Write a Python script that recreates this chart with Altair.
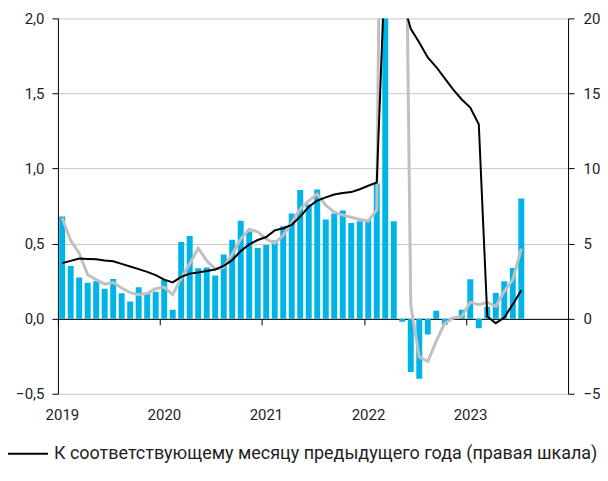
import altair as alt
import pandas as pd

# Monthly change, % (left axis), Jan 2019 .. Jul 2023
bars_mm = [0.68, 0.35, 0.275, 0.24, 0.25, 0.20, 0.265, 0.17, 0.115, 0.21, 0.17, 0.18,
           0.26, 0.06, 0.51, 0.55, 0.335, 0.34, 0.288, 0.427, 0.525, 0.652, 0.58, 0.47,
           0.49, 0.52, 0.615, 0.70, 0.857, 0.76, 0.86, 0.66, 0.70, 0.72, 0.637, 0.648,
           0.658, 0.90, 2.6, 0.648, -0.02, -0.355, -0.40, -0.105, 0.053, -0.04, 0.01, 0.06,
           0.262, -0.064, 0.08, 0.171, 0.249, 0.337, 0.80]

# Year-on-year, % (right axis)
yoy = [3.7, 3.85, 4.0, 3.98, 3.95, 3.87, 3.82, 3.65, 3.47, 3.3, 3.12, 2.9, 2.6, 2.42,
       2.78, 3.0, 3.07, 3.18, 3.28, 3.52, 3.9,
       4.5, 4.95, 5.24, 5.44, 5.88, 6.02, 6.25, 6.8, 7.45, 7.86, 8.08, 8.27, 8.37, 8.43, 8.62, 8.85, 9.07,
       24.0, 23.0, 21.3,
       19.3, 18.4, 17.4, 16.76, 16.0, 15.25, 14.6, 14.06, 12.95,
       0.15, -0.3, 0.08, 0.95, 1.9]

# Gray series (right axis)
gray = [6.7, 5.2, 4.36, 2.92, 2.6, 2.3, 2.41, 2.04, 1.73, 1.6, 1.69, 1.99, 2.1, 1.6,
        2.7, 3.65, 4.69, 3.86, 3.3, 3.42, 4.3,
        5.3, 5.96, 5.78, 5.3, 5.02, 5.55, 6.4, 7.3, 7.85, 8.3, 7.55, 7.1, 6.9, 6.75, 6.6, 6.5, 7.25,
        62.0, 70.0, 48.8,
        0.9, -2.55, -2.85, -1.5, -0.3, 0.05, 0.15, 1.1, 0.93,
        1.08, 0.82, 1.82, 2.6, 4.67]

year_ticks = [0, 12, 24, 36, 48]   # month index of each January
first_year = 2019
n_months = 60
left_ticks = [-0.5, 0.0, 0.5, 1.0, 1.5, 2.0]
right_ticks = [-5, 0, 5, 10, 15, 20]
legend_label = "К соответствующему месяцу предыдущего года (правая шкала)"

FONT = "Roboto"
TXT = "#1e1e1e"

df = pd.DataFrame({"i": list(range(len(bars_mm))), "bar": bars_mm, "yoy": yoy, "gray": gray})
df["x0"] = df["i"] + 0.15
df["x1"] = df["i"] + 0.85
df["xc"] = df["i"] + 0.5
df["series"] = legend_label

xscale = alt.Scale(domain=[0, n_months], nice=False, zero=False)
yl = alt.Scale(domain=[left_ticks[0], left_ticks[-1]], nice=False, zero=False)
yr = alt.Scale(domain=[right_ticks[0], right_ticks[-1]], nice=False, zero=False)

x_axis = alt.Axis(
    values=year_ticks,
    labelExpr=f"'' + ({first_year} + datum.value / 12)",
    offset=-75,
    domainColor="black",
    tickColor="black", tickSize=6,
    labelPadding=83, labelFlush=False, labelOffset=4,
    labelFont=FONT, labelFontSize=15, labelColor=TXT,
    grid=False, title=None,
)

left_axis = alt.Axis(
    orient="left",
    values=left_ticks,
    labelExpr="datum.value == 0 ? '0,0' : replace(format(datum.value, '.1f'), '.', ',')",
    domainColor="black",
    tickColor="black", tickSize=6,
    labelPadding=8, labelFont=FONT, labelFontSize=15, labelColor=TXT,
    grid=True, gridColor="#c8c8c8",
    title=None,
)

right_axis = alt.Axis(
    orient="right",
    values=right_ticks,
    domainColor="black",
    tickColor="black", tickSize=6,
    labelPadding=9, labelFont=FONT, labelFontSize=15, labelColor=TXT,
    grid=False, title=None,
)

bars = alt.Chart(df).mark_bar(color="#00B4E8", clip=True).encode(
    x=alt.X("x0:Q", scale=xscale, axis=x_axis),
    x2="x1:Q",
    y=alt.Y("bar:Q", scale=yl, axis=left_axis),
    y2=alt.datum(0),
)

gray_line = alt.Chart(df).mark_line(color="#C0C0C0", strokeWidth=3, clip=True).encode(
    x=alt.X("xc:Q", scale=xscale, axis=x_axis),
    y=alt.Y("gray:Q", scale=yr, axis=right_axis),
)

black_line = alt.Chart(df).mark_line(strokeWidth=2, clip=True).encode(
    x=alt.X("xc:Q", scale=xscale, axis=x_axis),
    y=alt.Y("yoy:Q", scale=yr, axis=right_axis),
    color=alt.Color(
        "series:N",
        scale=alt.Scale(domain=[legend_label], range=["black"]),
        legend=alt.Legend(
            title=None, orient="none", legendX=-59, legendY=411,
            symbolType="stroke", symbolSize=2300, symbolStrokeWidth=2,
            labelFont=FONT, labelFontSize=18, labelColor=TXT, labelLimit=0,
            labelOffset=5, padding=0,
        ),
    ),
)

lines = alt.layer(gray_line, black_line)

chart = (
    alt.layer(bars, lines)
    .resolve_scale(y="independent")
    .properties(
        width=511, height=376,
        padding={"left": 50, "top": 10, "right": 32, "bottom": 80},
        autosize=alt.AutoSizeParams(type="none"),
    )
    .configure_view(stroke=None)
)

chart.save("out.html", embed_options={"renderer": "svg", "actions": False})
